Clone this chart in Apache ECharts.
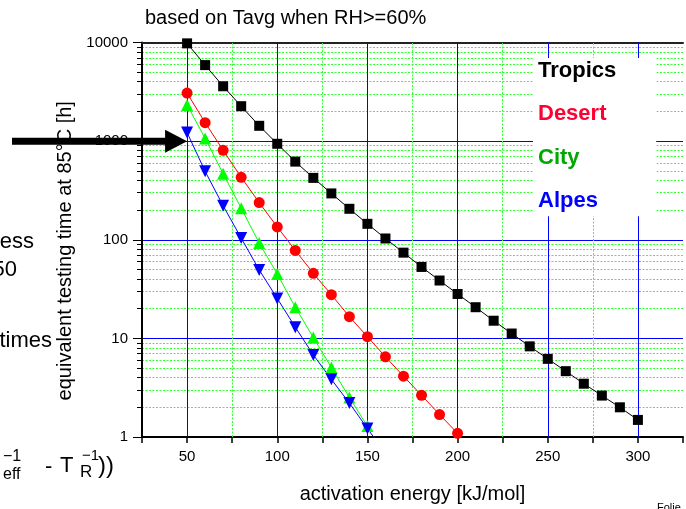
<!DOCTYPE html>
<html>
<head>
<meta charset="utf-8">
<script src="https://cdn.jsdelivr.net/npm/echarts@6/dist/echarts.min.js"></script>
<style>
  html, body { margin: 0; padding: 0; background: #fff; }
  #chart { width: 686px; height: 509px; }
</style>
</head>
<body>
<div id="chart"></div>
<script>
const FONT = "'Liberation Sans', Arial, sans-serif";

// activation energy [kJ/mol] per curve
const energyTropics = [50, 60, 70, 80, 90, 100, 110, 120, 130, 140, 150, 160, 170, 180, 190, 200, 210, 220, 230, 240, 250, 260, 270, 280, 290, 300];
const energyDesert  = [50, 60, 70, 80, 90, 100, 110, 120, 130, 140, 150, 160, 170, 180, 190, 200];
const energyCity    = [50, 60, 70, 80, 90, 100, 110, 120, 130, 140, 150];
const energyAlpes   = [50, 60, 70, 80, 90, 100, 110, 120, 130, 140, 150, 160];

// equivalent testing time at 85°C [h]
const hoursTropics = [9800, 5900, 3600, 2260, 1430, 940, 620, 424, 295, 206, 145, 103, 74, 53, 38.6, 28.2, 20.7, 15.1, 11.2, 8.3, 6.2, 4.65, 3.47, 2.63, 2.0, 1.49];
const hoursDesert  = [3070, 1540, 807, 430, 238, 135, 78, 45.7, 27.7, 16.6, 10.4, 6.5, 4.14, 2.65, 1.69, 1.09];
const hoursCity    = [2330, 1065, 468, 209, 92.7, 45, 20.7, 10.2, 5.06, 2.51, 1.29];
const hoursAlpes   = [1222, 494, 221, 104, 49.4, 25.4, 13, 6.8, 3.84, 2.21, 1.22, 0.68];

const xTickLabels = [50, 100, 150, 200, 250, 300];
const yTickLabels = [1, 10, 100, 1000, 10000];

// vertical grid: solid at labelled energies, dotted in between
const gridMajorX = [50, 100, 150, 200, 250, 300];
const gridMinorX = [75, 125, 175, 225, 275];

const pairs = (xs, ys) => xs.map((x, i) => [x, ys[i]]);

const chart = echarts.init(document.getElementById('chart'), null, { renderer: 'canvas' });

function curve(name, xs, ys, color, symbol, size, rotate) {
  return {
    name: name,
    type: 'line',
    xAxisIndex: 0,
    yAxisIndex: 0,
    data: pairs(xs, ys),
    symbol: symbol,
    symbolSize: size,
    symbolRotate: rotate || 0,
    showAllSymbol: true,
    clip: true,
    itemStyle: { color: color, opacity: 1 },
    lineStyle: { color: color, width: 1 },
    emphasis: { disabled: true },
    z: 3
  };
}

const verticalGrid = {
  type: 'line',
  xAxisIndex: 0,
  yAxisIndex: 0,
  data: [],
  silent: true,
  z: 1,
  markLine: {
    silent: true,
    z: 1,
    animation: false,
    symbol: ['none', 'none'],
    label: { show: false },
    emphasis: { disabled: true },
    data: gridMajorX.map(v => ({ xAxis: v, lineStyle: { color: '#0000ff', width: 1, type: 'solid' } }))
      .concat(gridMinorX.map(v => ({ xAxis: v, lineStyle: { color: '#33ff33', width: 1, type: [2, 1.5] } })))
  }
};

const option = {
  animation: false,
  backgroundColor: '#fff',
  textStyle: { fontFamily: FONT },
  title: {
    text: 'based on Tavg when RH>=60%',
    left: 145,
    top: 8,
    padding: 0,
    textStyle: { fontFamily: FONT, fontSize: 20, fontWeight: 'normal', color: '#000' }
  },
  grid: { left: 142, top: 42.5, width: 546, height: 400, containLabel: false },
  legend: {
    orient: 'vertical',
    left: 533,
    top: 58,
    icon: 'none',
    itemWidth: 0,
    itemHeight: 26,
    itemGap: 17.4,
    backgroundColor: '#fff',
    padding: [0, 40, 2, 0],
    selectedMode: false,
    textStyle: { fontFamily: FONT, fontSize: 22, fontWeight: 'bold', lineHeight: 26 },
    data: [
      { name: 'Tropics', textStyle: { color: '#000000' } },
      { name: 'Desert',  textStyle: { color: '#ff0033' } },
      { name: 'City',    textStyle: { color: '#00a800' } },
      { name: 'Alpes',   textStyle: { color: '#0000ff' } }
    ],
    z: 6
  },
  xAxis: [
    {
      type: 'value',
      position: 'bottom',
      min: 25,
      max: 325,
      interval: 25,
      name: 'activation energy [kJ/mol]',
      nameLocation: 'middle',
      nameGap: 47,
      nameTextStyle: { fontFamily: FONT, fontSize: 20, color: '#000' },
      axisLine: { show: true, onZero: false, lineStyle: { color: '#000', width: 2 } },
      axisTick: { show: true, inside: false, length: 6, lineStyle: { color: '#000', width: 1.5 } },
      axisLabel: {
        margin: 12,
        fontFamily: FONT,
        fontSize: 15,
        color: '#000',
        formatter: v => (xTickLabels.indexOf(v) >= 0 ? String(v) : '')
      },
      splitLine: { show: false }
    },
    {
      type: 'value',
      position: 'top',
      min: 25,
      max: 325,
      interval: 25,
      axisLine: { show: true, onZero: false, lineStyle: { color: '#222', width: 2 } },
      axisTick: { show: false },
      axisLabel: { show: false },
      splitLine: { show: false }
    }
  ],
  yAxis: [
    {
      type: 'log',
      logBase: 10,
      min: 1,
      max: 10000,
      name: 'equivalent testing time at 85°C [h]',
      nameLocation: 'middle',
      nameGap: 67,
      nameRotate: 90,
      nameTextStyle: { fontFamily: FONT, fontSize: 20, color: '#000', padding: [0, 22, 0, 0] },
      axisLine: { show: true, onZero: false, lineStyle: { color: '#000', width: 2 } },
      axisTick: { show: true, inside: false, length: 9, lineStyle: { color: '#000', width: 1 } },
      minorTick: { show: true, splitNumber: 9, length: 5, lineStyle: { color: '#000', width: 1 } },
      axisLabel: {
        margin: 14,
        fontFamily: FONT,
        fontSize: 15,
        color: '#000',
        formatter: v => (yTickLabels.indexOf(Math.round(v)) >= 0 ? String(Math.round(v)) : '')
      },
      splitLine: { show: true, lineStyle: { color: '#0000ff', width: 1 } },
      minorSplitLine: { show: true, lineStyle: { color: '#33ff33', width: 1, type: [2, 1.5] } }
    }
  ],
  series: [
    verticalGrid,
    curve('Tropics', energyTropics, hoursTropics, '#000000', 'rect', 10),
    curve('Desert',  energyDesert,  hoursDesert,  '#ff0000', 'circle', 11),
    curve('City',    energyCity,    hoursCity,    '#00ff00', 'triangle', 12),
    curve('Alpes',   energyAlpes,   hoursAlpes,   '#0000ff', 'triangle', 12, 180)
  ]
};

chart.setOption(option);

// pointer arrow to the 1000 h mark at 50 kJ/mol, plus surrounding slide text
const tip = chart.convertToPixel({ xAxisIndex: 0, yAxisIndex: 0 }, [50, 1000]);
const headLen = 22, headHalf = 11.5, shaftHalf = 3.5;

function txt(x, y, text, size, align) {
  return {
    type: 'text',
    z: 20,
    style: {
      x: x, y: y, text: text,
      font: size + 'px ' + FONT,
      fill: '#000',
      align: align || 'left',
      verticalAlign: 'middle'
    }
  };
}

chart.setOption({
  graphic: [
    {
      type: 'polygon',
      z: 30,
      shape: {
        points: [
          [12, tip[1] - shaftHalf],
          [tip[0] - headLen, tip[1] - shaftHalf],
          [tip[0] - headLen, tip[1] - headHalf],
          [tip[0], tip[1]],
          [tip[0] - headLen, tip[1] + headHalf],
          [tip[0] - headLen, tip[1] + shaftHalf],
          [12, tip[1] + shaftHalf]
        ]
      },
      style: { fill: '#000' }
    },
    txt(34, 242, 'ess', 22, 'right'),
    txt(17, 270, '50', 22, 'right'),
    txt(52, 341, 'times', 22, 'right'),
    txt(3, 457, '\u22121', 16),
    txt(3, 475, 'eff', 16),
    txt(45, 467, '-', 22),
    txt(60, 466, 'T', 22),
    txt(80, 472, 'R', 17),
    txt(82, 456, '\u22121', 15),
    txt(98, 466, '))', 24),
    txt(657, 508, 'Folie', 11)
  ]
});
</script>
</body>
</html>
